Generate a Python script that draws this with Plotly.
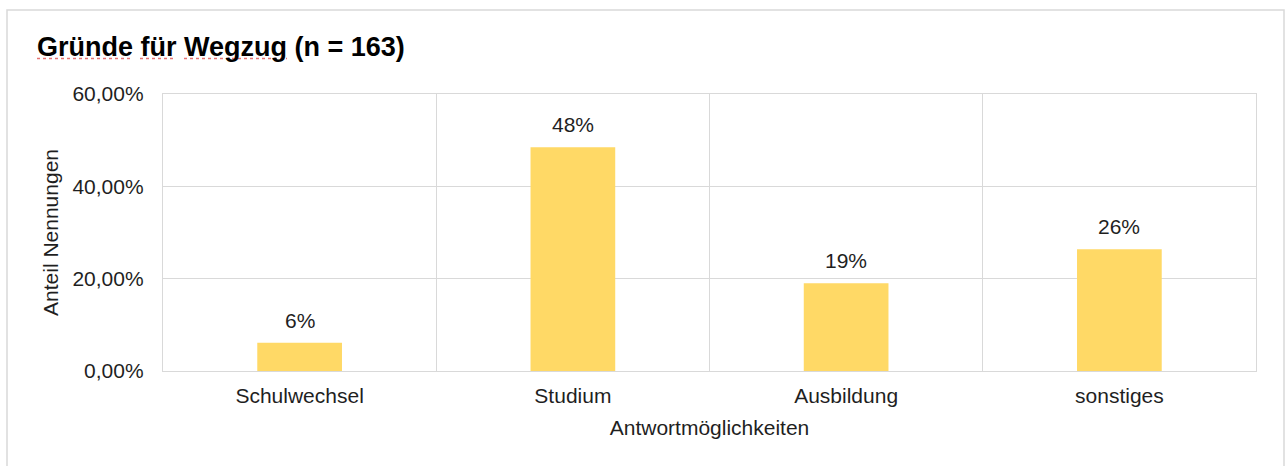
import plotly.graph_objects as go

# ---- data ----
categories = ["Schulwechsel", "Studium", "Ausbildung", "sonstiges"]
shares = [0.0613, 0.4847, 0.1902, 0.2638]
y_tick_values = [0.0, 0.2, 0.4, 0.6]
title_text = "Gründe für Wegzug (n = 163)"
x_title = "Antwortmöglichkeiten"
y_title = "Anteil Nennungen"

# ---- layout constants ----
W, H = 1285, 466
ML, MR, MT, MB = 163, 29, 94, 95
PW, PH = W - ML - MR, H - MT - MB
FONT = "Arial, Liberation Sans, sans-serif"
TXT = "#1f1f1f"
GRID = "#d9d9d9"
BAR = "#FFD966"


def px_x(x):
    return (x - ML) / PW


def px_y(y):
    return (H - MB - y) / PH


fig = go.Figure()
fig.add_trace(go.Bar(
    x=categories, y=shares, width=0.31,
    marker=dict(color=BAR, line=dict(width=0)),
    hoverinfo="x+y",
))

annotations = []
for c, v in zip(categories, shares):
    annotations.append(dict(
        x=c, y=v, xref="x", yref="y", text=f"{v:.0%}", showarrow=False,
        yanchor="bottom", yshift=9, font=dict(family=FONT, size=21, color=TXT),
    ))

shapes = [
    # outer chart frame
    dict(type="rect", xref="paper", yref="paper",
         x0=px_x(7), x1=px_x(1284), y0=px_y(10), y1=px_y(480),
         line=dict(color=GRID, width=1.5), fillcolor="rgba(0,0,0,0)", layer="below"),
]
# spell-check underlines under the title words
for x0, x1 in [(37, 133), (140, 176), (184, 287)]:
    shapes.append(dict(type="line", xref="paper", yref="paper",
                       x0=px_x(x0), x1=px_x(x1), y0=px_y(58.5), y1=px_y(58.5),
                       line=dict(color="#e57373", width=1.6, dash="dot")))

fig.update_layout(
    width=W, height=H, autosize=False,
    margin=dict(l=ML, r=MR, t=MT, b=MB, pad=0),
    paper_bgcolor="white", plot_bgcolor="white",
    separators=",.",
    showlegend=False,
    title=dict(text=f"<b>{title_text}</b>", x=37 / W, xanchor="left", xref="container",
               y=1 - 47 / H, yanchor="middle", yref="container",
               font=dict(family=FONT, size=27, color="#000000")),
    font=dict(family=FONT, size=21, color=TXT),
    annotations=annotations,
    shapes=shapes,
)
fig.update_xaxes(
    type="category", tickson="boundaries", showgrid=True, gridcolor=GRID, gridwidth=1.3,
    showline=True, linecolor=GRID, linewidth=1.3, mirror=True, ticks="",
    tickfont=dict(family=FONT, size=21, color=TXT), ticklabelstandoff=6,
    title=dict(text=x_title, font=dict(family=FONT, size=21, color=TXT), standoff=13),
    fixedrange=True,
)
fig.update_yaxes(
    range=[0, 0.6], tickvals=y_tick_values, tickformat=".2%",
    showgrid=True, gridcolor=GRID, gridwidth=1.3, zeroline=False,
    showline=True, linecolor=GRID, linewidth=1.3, mirror=True, ticks="",
    tickfont=dict(family=FONT, size=21, color=TXT), ticklabelstandoff=14,
    title=dict(text=y_title, font=dict(family=FONT, size=21, color=TXT), standoff=8),
    fixedrange=True,
)

fig.write_html(
    "out.html",
    config={"displayModeBar": False},
    post_script="document.body.style.margin='0';document.body.style.padding='0';"
                "document.body.style.overflow='hidden';",
)
